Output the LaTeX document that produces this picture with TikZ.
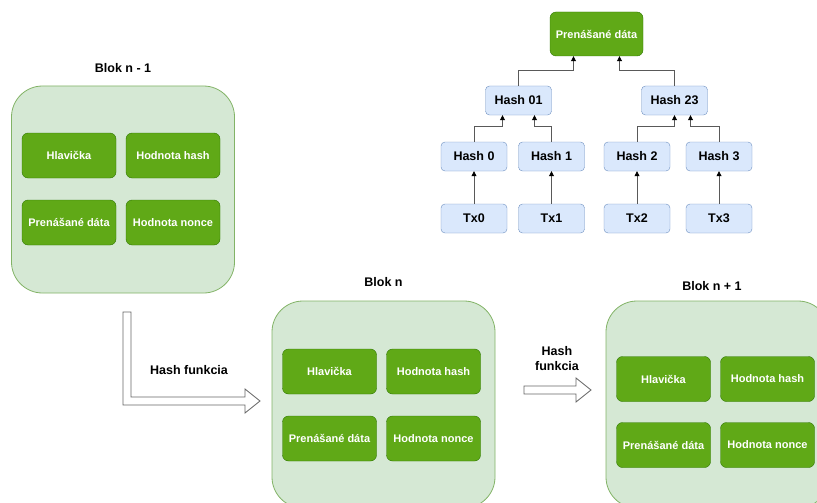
\documentclass[tikz,border=0pt]{standalone}
\usepackage{fontspec}
\setmainfont{Liberation Sans}
\usepackage{tikz}
\usetikzlibrary{arrows.meta}
\usetikzlibrary{positioning}

\definecolor{blokfill}{HTML}{D5E8D4}
\definecolor{blokline}{HTML}{82B366}
\definecolor{polefill}{HTML}{60A917}
\definecolor{poleline}{HTML}{2D7600}
\definecolor{hashfill}{HTML}{DAE8FC}
\definecolor{hashline}{HTML}{6C8EBF}
\definecolor{sipkaline}{HTML}{666666}

\tikzset{
  blok/.style={draw=blokline, fill=blokfill, rounded corners=31pt,
    minimum width=223pt, minimum height=207pt, line width=.8pt},
  pole/.style={draw=poleline, fill=polefill, rounded corners=6pt,
    minimum width=94pt, minimum height=45pt, text=white,
    font=\fontsize{11}{13}\selectfont\bfseries},
  hash/.style={draw=hashline, fill=hashfill, rounded corners=4pt,
    minimum width=66pt, minimum height=29pt,
    font=\fontsize{12.5}{15}\selectfont\bfseries},
  nadpis/.style={font=\fontsize{12.5}{15}\selectfont\bfseries},
  spoj/.style={draw=black!65, line width=.8pt,
    -{Triangle[width=5pt,length=5pt,color=black]}},
  blokovasipka/.style={draw=sipkaline, fill=white, line width=.8pt}
}

\begin{document}
\begin{tikzpicture}[x=1pt, y=-1pt, node distance=60pt, on grid]
  \useasboundingbox (0,0) rectangle (817,503);
  \clip (0,0) rectangle (817,503);

  % bloky retazca
  \node[blok]  (blokA)  at (123,189.5)                   {};
  \node[nadpis] (nadpisA) [above=121.5pt of blokA]        {Blok n - 1};
  \node[pole]  (hlavA)  [above left=34pt and 54pt of blokA]  {Hlavička};
  \node[pole]  (hashA)  [above right=34pt and 50pt of blokA] {Hodnota hash};
  \node[pole]  (dataA)  [below left=33pt and 54pt of blokA]  {Prenášané dáta};
  \node[pole]  (nonceA) [below right=33pt and 50pt of blokA] {Hodnota nonce};

  \node[blok]  (blokB)  at (383.5,404.5)                 {};
  \node[nadpis] (nadpisB) [above=122.5pt of blokB]        {Blok n};
  \node[pole]  (hlavB)  [above left=33pt and 54pt of blokB]  {Hlavička};
  \node[pole]  (hashB)  [above right=33pt and 50pt of blokB] {Hodnota hash};
  \node[pole]  (dataB)  [below left=34pt and 54pt of blokB]  {Prenášané dáta};
  \node[pole]  (nonceB) [below right=34pt and 50pt of blokB] {Hodnota nonce};

  \node[blok]  (blokC)  at (717.5,404.5)                 {};
  \node[nadpis] (nadpisC) [above=118.5pt of blokC, xshift=-5.5pt] {Blok n + 1};
  \node[pole]  (hlavC)  [above left=25.5pt and 54pt of blokC]  {Hlavička};
  \node[pole]  (hashC)  [above right=25.5pt and 50pt of blokC] {Hodnota hash};
  \node[pole]  (dataC)  [below left=40.5pt and 54pt of blokC]  {Prenášané dáta};
  \node[pole]  (nonceC) [below right=40.5pt and 50pt of blokC] {Hodnota nonce};

  % hash funkcia medzi blokmi
  \coordinate (sipkaA) at (123,312);
  \draw[blokovasipka] (sipkaA) -- ++(8,0) -- ++(0,85) -- ++(114,0) -- ++(0,-8)
    -- ++(15,12) -- ++(-15,12) -- ++(0,-8) -- ++(-122,0) -- cycle;
  \node[nadpis] (funkciaA) at (189,370) {Hash funkcia};

  \coordinate (sipkaB) at (524,386);
  \draw[blokovasipka] (sipkaB) -- ++(52,0) -- ++(0,-8) -- ++(15,12)
    -- ++(-15,12) -- ++(0,-8) -- ++(-52,0) -- cycle;
  \node[nadpis, align=center] (funkciaB) at (557,359) {Hash\\funkcia};

  % merkleho strom
  \node[pole, minimum width=93pt, minimum height=44pt] (koren) at (596.5,34) {Prenášané dáta};
  \node[hash] (h01) [below left=66.5pt and 78pt of koren]  {Hash 01};
  \node[hash] (h23) [below right=66.5pt and 78pt of koren] {Hash 23};
  \node[hash] (h0)  [below left=56pt and 44.5pt of h01]    {Hash 0};
  \node[hash] (h1)  [below right=56pt and 33pt of h01]     {Hash 1};
  \node[hash] (h2)  [below left=56pt and 37.5pt of h23]    {Hash 2};
  \node[hash] (h3)  [below right=56pt and 44.5pt of h23]   {Hash 3};
  \node[hash] (tx0) [below=62pt of h0] {Tx0};
  \node[hash] (tx1) [below=62pt of h1] {Tx1};
  \node[hash] (tx2) [below=62pt of h2] {Tx2};
  \node[hash] (tx3) [below=62pt of h3] {Tx3};

  \draw[spoj] (tx0) -- (h0);
  \draw[spoj] (tx1) -- (h1);
  \draw[spoj] (tx2) -- (h2);
  \draw[spoj] (tx3) -- (h3);
  \draw[spoj] (h0.north) -- ++(0,-15) -| ([xshift=-16pt]h01.south);
  \draw[spoj] (h1.north) -- ++(0,-15) -| ([xshift=16pt]h01.south);
  \draw[spoj] (h2.north) -- ++(0,-15) -| (h23.south);
  \draw[spoj] (h3.north) -- ++(0,-15) -| ([xshift=16pt]h23.south);
  \draw[spoj] (h01.north) -- ++(0,-15) -| ([xshift=-23pt]koren.south);
  \draw[spoj] (h23.north) -- ++(0,-15) -| ([xshift=23pt]koren.south);
\end{tikzpicture}
\end{document}
